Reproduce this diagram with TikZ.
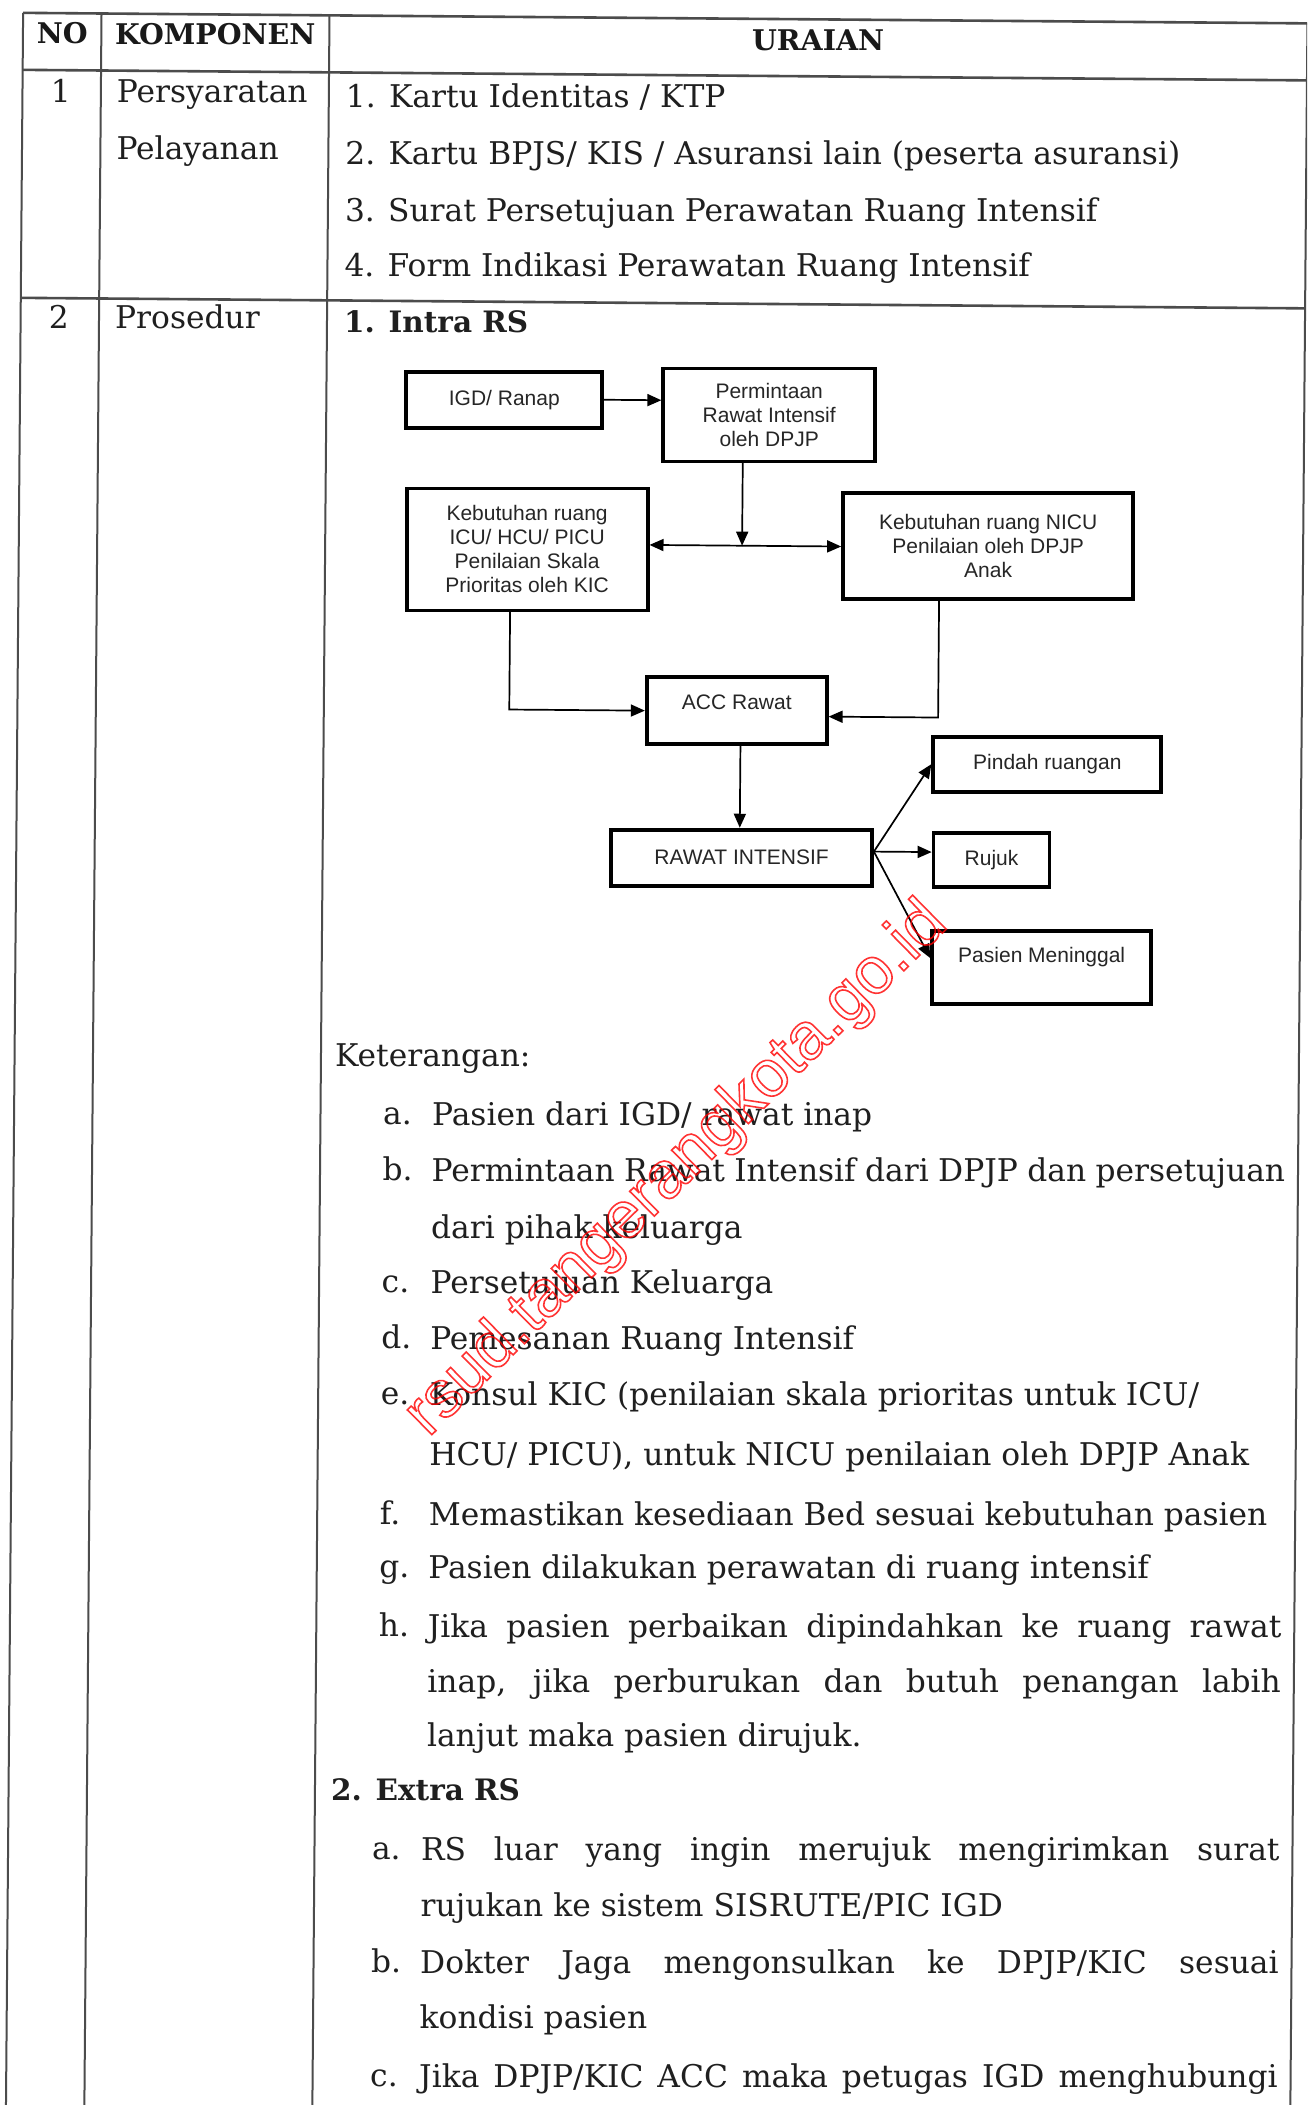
\documentclass[tikz,border=0pt]{standalone}
\usepackage{fontspec}
\setmainfont{DejaVu Serif}
\newfontfamily\flowfont{Liberation Sans}
\usetikzlibrary{arrows.meta}

\begin{document}
\begin{tikzpicture}[
  x=1pt,y=-1pt,
  >={Triangle[length=14pt,width=12pt]},
  rule/.style={line width=2pt,color=black!70},
  hrule/.style={line width=2.6pt,color=black!70},
  flowbox/.style={draw,rectangle,line width=3.8pt,inner sep=0pt,align=center,
    font=\flowfont\fontsize{21}{24}\selectfont,text=black!85},
  link/.style={line width=1.7pt,->},
  body/.style={anchor=base west,inner sep=0pt,
    font=\fontsize{31.3}{36}\selectfont,text=black!88},
  headtext/.style={anchor=base,inner sep=0pt,
    font=\bfseries\fontsize{28.5}{34}\selectfont,text=black!90},
  stamp/.style={anchor=base,inner sep=0pt,rotate=44.5,opacity=0.8,
    text=red,font=\flowfont\fontsize{66}{70}\selectfont}
]
  \path[use as bounding box,clip]
    (0,0)
    rectangle
    (1307,2105);
  \fill[white]
    (0,0)
    rectangle
    (1307,2105);
  \begin{scope}[rotate around={-0.47:(653,1052)}]
  \draw[hrule]
    (14.6,18)
    --
    (1299,18);
  \draw[hrule]
    (14.6,75)
    --
    (1299,75);
  \draw[hrule]
    (14.6,303)
    --
    (1299,303);
  \draw[rule]
    (14.6,18)
    --
    (14.6,2140);
  \draw[rule]
    (93,18)
    --
    (93,2140);
  \draw[rule]
    (321,18)
    --
    (321,2140);
  \draw[rule]
    (1299,18)
    --
    (1299,2140);
  \node[headtext] (hno) at (54,48) {NO};
  \node[headtext] (hkomp) at (207,48) {KOMPONEN};
  \node[headtext] (hurai) at (810,49) {URAIAN};
  \node[body,anchor=base] (no1) at (53,107) {1};
  \node[body] (komp1a) at (109,107) {Persyaratan};
  \node[body] (komp1b) at (109,164) {Pelayanan};
  \node[body] (syarat1) at (338,110.5) {1. Kartu Identitas / KTP};
  \node[body] (syarat2) at (338,167.5) {2. Kartu BPJS/ KIS / Asuransi lain (peserta asuransi)};
  \node[body] (syarat3) at (338,224.5) {3. Surat Persetujuan Perawatan Ruang Intensif};
  \node[body] (syarat4) at (338,279.5) {4. Form Indikasi Perawatan Ruang Intensif};
  \node[body,anchor=base] (no2) at (53,333) {2};
  \node[body] (komp2) at (109,333) {Prosedur};
  \node[body,font=\bfseries\fontsize{29.5}{35}\selectfont] (intra) at (338,335) {1. Intra RS};
  \node[flowbox,minimum width=196pt,minimum height=56pt] (igd) at (499,401) {IGD/ Ranap};
  \node[flowbox,minimum width=212pt,minimum height=93pt] (perm) at (764,414) {Permintaan\\Rawat Intensif\\oleh DPJP};
  \node[flowbox,minimum width=241pt,minimum height=122pt] (icu) at (523,550.5) {Kebutuhan ruang\\ICU/ HCU/ PICU\\Penilaian Skala\\Prioritas oleh KIC};
  \node[flowbox,minimum width=290pt,minimum height=106pt] (nicu) at (984,543) {Kebutuhan ruang NICU\\Penilaian oleh DPJP\\Anak};
  \node[flowbox,minimum width=180pt,minimum height=67pt,text depth=17pt] (acc) at (734,710) {ACC Rawat};
  \node[flowbox,minimum width=261pt,minimum height=56pt] (rawat) at (740,857) {RAWAT INTENSIF};
  \node[flowbox,minimum width=228pt,minimum height=55pt] (pindah) at (1045,761) {Pindah ruangan};
  \node[flowbox,minimum width=116pt,minimum height=54pt] (rujuk) at (990,857) {Rujuk};
  \node[flowbox,minimum width=219pt,minimum height=73pt,text depth=24pt] (mening) at (1041,964) {Pasien Meninggal};
  \coordinate (split) at (738,545);
  \coordinate (fork) at ([yshift=6pt]rawat.east);
  \draw[link]
    (igd.east)
    --
    (igd.east -| perm.west);
  \draw[link]
    (perm.south -| split)
    --
    (split);
  \draw[link]
    (split)
    --
    (split -| icu.east);
  \draw[link]
    (split)
    --
    (split -| nicu.west);
  \draw[link]
    ([xshift=-17pt]icu.south)
    |-
    (acc.west);
  \draw[link]
    ([xshift=-49pt]nicu.south)
    |-
    ([yshift=-6pt]acc.east);
  \draw[link]
    (acc.south -| split)
    --
    (rawat.north -| split);
  \draw[link]
    (fork)
    --
    (pindah.west);
  \draw[link]
    (fork)
    --
    (fork -| rujuk.west);
  \draw[link]
    (fork)
    --
    ([yshift=9pt]mening.west);
  \node[body] (ket) at (335,1069) {Keterangan:};
  \node[body] (la) at (383.5,1127) {a.};
  \node[body] (ta) at (432.5,1127) {Pasien dari IGD/ rawat inap};
  \node[body] (lb) at (383.5,1183) {b.};
  \node[body] (tb) at (432.5,1183) {\makebox[853.5pt][s]{Permintaan Rawat Intensif dari DPJP dan persetujuan}};
  \node[body] (tb2) at (432.5,1240) {dari pihak keluarga};
  \node[body] (lc) at (383.5,1295) {c.};
  \node[body] (tc) at (432.5,1295) {Persetujuan Keluarga};
  \node[body] (ld) at (383.5,1351) {d.};
  \node[body] (td) at (432.5,1351) {Pemesanan Ruang Intensif};
  \node[body] (le) at (383.5,1407) {e.};
  \node[body] (te) at (432.5,1407) {Konsul KIC (penilaian skala prioritas untuk ICU/};
  \node[body] (te2) at (432.5,1467) {HCU/ PICU), untuk NICU penilaian oleh DPJP Anak};
  \node[body] (lf) at (383.5,1527) {f.};
  \node[body] (tf) at (432.5,1527) {Memastikan kesediaan Bed sesuai kebutuhan pasien};
  \node[body] (lg) at (383.5,1580) {g.};
  \node[body] (tg) at (432.5,1580) {Pasien dilakukan perawatan di ruang intensif};
  \node[body] (lh) at (383.5,1639) {h.};
  \node[body] (th) at (432.5,1639) {\makebox[853.5pt][s]{Jika pasien perbaikan dipindahkan ke ruang rawat}};
  \node[body] (th2) at (432.5,1694) {\makebox[853.5pt][s]{inap, jika perburukan dan butuh penangan labih}};
  \node[body] (th3) at (432.5,1748) {lanjut maka pasien dirujuk.};
  \node[body,font=\bfseries\fontsize{29.5}{35}\selectfont] (extra) at (337,1803) {2. Extra RS};
  \node[body] (xa) at (378.5,1862) {a.};
  \node[body] (xta) at (427.5,1862) {\makebox[858.5pt][s]{RS luar yang ingin merujuk mengirimkan surat}};
  \node[body] (xta2) at (427.5,1918) {rujukan ke sistem SISRUTE/PIC IGD};
  \node[body] (xb) at (378.5,1975) {b.};
  \node[body] (xtb) at (427.5,1975) {\makebox[858.5pt][s]{Dokter Jaga mengonsulkan ke DPJP/KIC sesuai}};
  \node[body] (xtb2) at (427.5,2030) {kondisi pasien};
  \node[body] (xc) at (378.5,2089) {c.};
  \node[body] (xtc) at (427.5,2089) {\makebox[858.5pt][s]{Jika DPJP/KIC ACC maka petugas IGD menghubungi}};
  \end{scope}
  \node[stamp] (mark) at (689,1182) {\special{pdf:literal direct 1 0 0 RG 1.6 w 1 Tr}rsud.tangerangkota.go.id\special{pdf:literal direct 0 Tr}};
\end{tikzpicture}
\end{document}
